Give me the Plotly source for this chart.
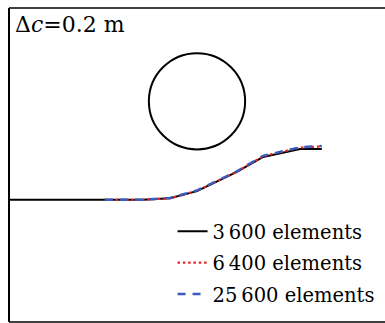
import plotly.graph_objects as go

# Interface profiles (x, y in m) for three mesh resolutions
x_3600 = [0.00, 3.56, 4.28, 5.00, 6.06, 6.76, 7.74, 8.32]
y_3600 = [3.25, 3.25, 3.29, 3.48, 3.99, 4.39, 4.60, 4.60]

x_6400 = [2.55, 3.56, 4.28, 5.00, 6.06, 6.76, 7.74, 8.32]
y_6400 = [3.25, 3.25, 3.29, 3.49, 4.00, 4.41, 4.64, 4.67]

x_25600 = [2.55, 3.56, 4.28, 5.00, 6.06, 6.76, 7.74, 8.32]
y_25600 = [3.25, 3.25, 3.30, 3.50, 4.01, 4.42, 4.65, 4.68]

series_names = ["3\u2009600 elements", "6\u2009400 elements", "25\u2009600 elements"]

# Circular obstacle
circle_center = (5.0, 5.87)
circle_radius = 1.28

SERIF = "DejaVu Serif"

fig = go.Figure()
fig.add_trace(go.Scatter(x=x_3600, y=y_3600, mode="lines", name=series_names[0],
                         legendgroup="a", line=dict(color="black", width=2)))
fig.add_trace(go.Scatter(x=x_6400, y=y_6400, mode="lines", name=series_names[1],
                         legendgroup="b",
                         line=dict(color="#e8262a", width=2.2, dash="2.5px,2.8px")))
fig.add_trace(go.Scatter(x=x_25600, y=y_25600, mode="lines", name=series_names[2],
                         legendgroup="c",
                         line=dict(color="#3a5bbf", width=2.4, dash="8px,7px")))

cx, cy = circle_center
fig.add_shape(type="circle", xref="x", yref="y",
              x0=cx - circle_radius, x1=cx + circle_radius,
              y0=cy - circle_radius, y1=cy + circle_radius,
              line=dict(color="black", width=2))

# Frame: top, left and bottom edges
frame = dict(color="#404040", width=2)
fig.add_shape(type="line", xref="paper", yref="paper", x0=0, x1=1, y0=1, y1=1, line=frame)
fig.add_shape(type="line", xref="paper", yref="paper", x0=0, x1=1, y0=0, y1=0, line=frame)
fig.add_shape(type="line", xref="paper", yref="paper", x0=0, x1=0, y0=0, y1=1,
              line=dict(color="black", width=2))

fig.add_annotation(xref="paper", yref="paper", x=0, y=1, xanchor="left", yanchor="top",
                   xshift=4, yshift=-2, showarrow=False,
                   text="\u0394<i>c</i>=0.2 m",
                   font=dict(family=SERIF, size=22, color="black"))

fig.update_xaxes(range=[0, 10], visible=False, fixedrange=True)
fig.update_yaxes(range=[0, 8.351], visible=False, fixedrange=True)

fig.update_layout(
    width=385, height=323,
    margin=dict(l=9, r=0, t=8, b=1, autoexpand=False),
    paper_bgcolor="white", plot_bgcolor="white",
    font=dict(family=SERIF),
    showlegend=True,
    legend=dict(x=0.435, y=0.35, xanchor="left", yanchor="top",
                bgcolor="rgba(0,0,0,0)", borderwidth=0,
                font=dict(family=SERIF, size=19.5, color="black"),
                tracegroupgap=3),
)

fig.write_html("out.html")
